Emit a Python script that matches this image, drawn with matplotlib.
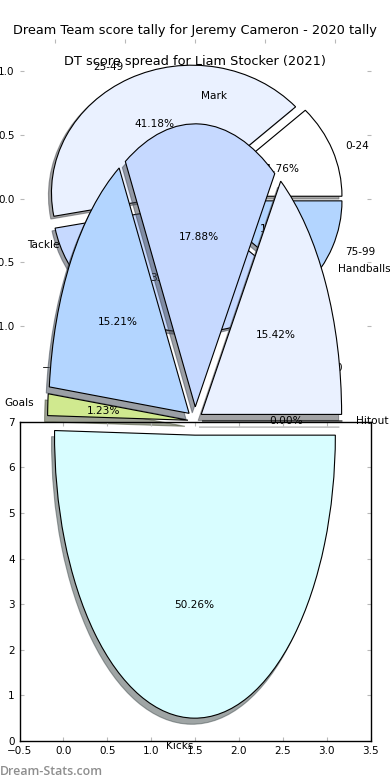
import matplotlib
matplotlib.use('Agg')
import matplotlib.pyplot as plt

# ---------------- data ----------------
spread_labels = ['0-24', '25-49', '50-74', '75-99']
spread_counts = [2, 7, 6, 2]
spread_colors = ['#ffffff', '#eaf1ff', '#c6d9ff', '#b3d5ff']

stat_labels = ['Hitout', 'Handballs', 'Mark', 'Tackle', 'Goals', 'Kicks']
stat_pcts = [0.00, 15.42, 17.88, 15.21, 1.23, 50.26]
stat_colors = ['#ffffff', '#eaf1ff', '#c6d9ff', '#b3d5ff', '#d0e98f', '#d8fdff']

title_main = 'Dream Team score tally for Jeremy Cameron - 2020 tally'
title_spread = 'DT score spread for Liam Stocker (2021)'
watermark = 'Dream-Stats.com'

pie_ticks = [-1.0, -0.5, 0.0, 0.5, 1.0]
x2_ticks = [-0.5, 0.0, 0.5, 1.0, 1.5, 2.0, 2.5, 3.0, 3.5]
y2_ticks = [0, 1, 2, 3, 4, 5, 6, 7]

# ---------------- layout ----------------
fig = plt.figure(figsize=(3.9, 7.8), dpi=100)
L, R, B, T = 0.05, 0.95, 0.05, 0.95
h = (T - B) / 2.2
ax1 = fig.add_axes([L, T - h, R - L, h])
axp = fig.add_axes([L, B, R - L, T - B])
ax2 = fig.add_axes([L, B, R - L, h])

tick_kw = dict(direction='in', length=3, width=0.8, color='#b8b8b8',
               labelcolor='black', labelsize=7.5, top=True, right=True, pad=3.5)
wedge_kw = dict(edgecolor='black', linewidth=0.8)
shadow_kw = dict(ox=-0.0155, oy=-0.0155, zorder=0.9)
text_kw = dict(fontsize=7.6)

# ---------------- pie 1 : score spread ----------------
ax1.pie(spread_counts, labels=spread_labels, colors=spread_colors,
        explode=[0.05] * len(spread_counts), autopct='%1.2f%%',
        shadow=shadow_kw, startangle=0, wedgeprops=wedge_kw,
        textprops=text_kw, frame=False)
ax1.set_aspect('auto')
ax1.set_xlim(-1.25, 1.25)
ax1.set_ylim(-1.25, 1.25)
ax1.set_xticks(pie_ticks)
ax1.set_yticks(pie_ticks)
ax1.tick_params(**tick_kw)
ax1.text(0.5, 0.9176, title_spread, transform=ax1.transAxes,
         ha='center', va='baseline', fontsize=9.25)

# ---------------- pie 2 : DT score tally ----------------
axp.pie(stat_pcts, labels=stat_labels, colors=stat_colors,
        explode=[0.05] * len(stat_pcts), autopct='%1.2f%%',
        shadow=shadow_kw, startangle=0, wedgeprops=wedge_kw,
        textprops=text_kw, frame=False)
axp.set_aspect('auto')
axp.set_xlim(-1.25, 1.25)
axp.set_ylim(-1.1307, 1.3498)
axp.set_xticks([])
axp.set_yticks([])
axp.set_title(title_main, fontsize=9.25, pad=3.4, y=1.0)

# ---------------- framed lower axes ----------------
ax2.set_xlim(-0.5, 3.5)
ax2.set_ylim(0, 7)
ax2.set_xticks(x2_ticks)
ax2.set_yticks(y2_ticks)
ax2.tick_params(**tick_kw)
ax2.patch.set_facecolor('none')
for s in ax2.spines.values():
    s.set_linewidth(1.0)
    s.set_color('black')

fig.text(0.0, 1 - 775 / 780, watermark, color='#8e8e8e', fontsize=8.9,
         family='Open Sans', fontweight='semibold', ha='left', va='baseline')

fig.savefig('out.png', dpi=100)
